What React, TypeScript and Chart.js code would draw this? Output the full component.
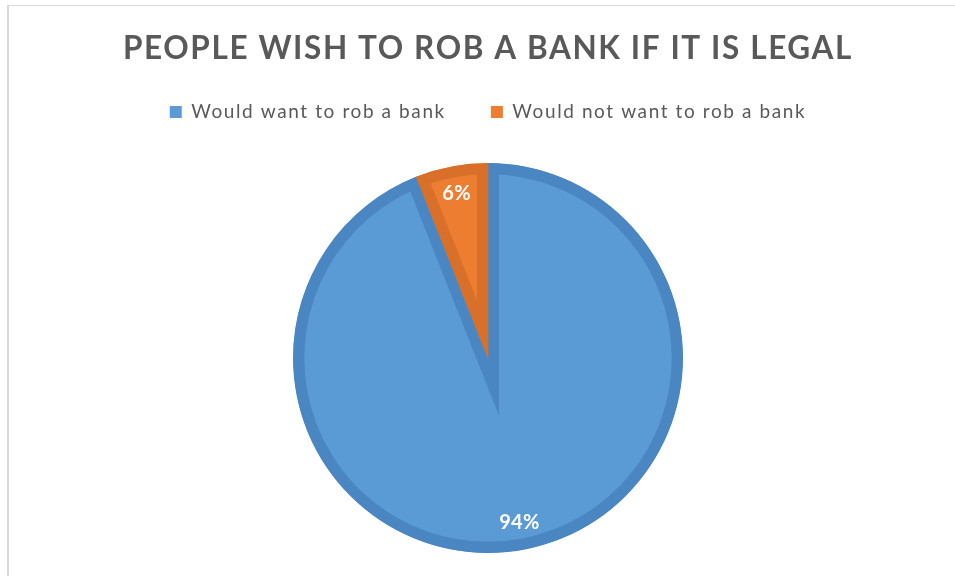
import React, { useEffect, useRef } from "react";
import { Chart, registerables } from "chart.js";

Chart.register(...registerables);

const TITLE = "PEOPLE WISH TO ROB A BANK IF IT IS LEGAL";
const categories = ["Would want to rob a bank", "Would not want to rob a bank"];
const values = [94, 6];
const valueLabels = ["94%", "6%"];
const fillColors = ["#5b9bd5", "#ed7d31"];
const borderColors = ["#4a86c1", "#d9702a"];

const LETTER_SPACING = "1.6px";

const spacingPlugin = {
  id: "textSpacing",
  beforeUpdate(chart: any) {
    (chart.ctx as any).letterSpacing = LETTER_SPACING;
  },
  beforeLayout(chart: any) {
    (chart.ctx as any).letterSpacing = LETTER_SPACING;
  },
  beforeDraw(chart: any) {
    (chart.ctx as any).letterSpacing = LETTER_SPACING;
  },
};

const sliceLabelPlugin = {
  id: "sliceLabels",
  afterDatasetsDraw(chart: any) {
    const ctx = chart.ctx;
    const meta = chart.getDatasetMeta(0);
    ctx.save();
    (ctx as any).letterSpacing = "0.3px";
    ctx.font = "bold 20px Lato";
    ctx.fillStyle = "#ffffff";
    ctx.textAlign = "center";
    ctx.textBaseline = "middle";
    meta.data.forEach((arc: any, i: number) => {
      const p = arc.getProps(["x", "y", "startAngle", "endAngle", "outerRadius"], true);
      const mid = (p.startAngle + p.endAngle) / 2;
      const r = p.outerRadius * 0.86;
      ctx.fillText(valueLabels[i], p.x + Math.cos(mid) * r, p.y + Math.sin(mid) * r);
    });
    ctx.restore();
  },
};

export default function App() {
  const ref = useRef<HTMLCanvasElement | null>(null);
  useEffect(() => {
    if (!ref.current) return;
    const chart = new Chart(ref.current, {
      type: "pie",
      data: {
        labels: categories,
        datasets: [
          {
            data: values,
            backgroundColor: fillColors,
            borderColor: borderColors,
            borderWidth: 11,
            borderAlign: "inner",
            borderJoinStyle: "miter",
            radius: 195,
          } as any,
        ],
      },
      options: {
        responsive: false,
        animation: false,
        layout: { padding: { left: 21, right: 0, top: 0, bottom: 15.5 } },
        plugins: {
          title: {
            display: true,
            text: TITLE,
            color: "#595959",
            font: { family: "Lato", size: 31.5, weight: "bold", lineHeight: 1.2 },
            padding: { top: 30.1, bottom: -10.4 },
          },
          legend: {
            display: true,
            position: "top",
            labels: {
              color: "#595959",
              font: { family: "Lato", size: 19 },
              boxWidth: 12,
              boxHeight: 12,
              padding: 45,
              generateLabels: () =>
                categories.map((t, i) => ({
                  text: t,
                  fillStyle: fillColors[i],
                  strokeStyle: fillColors[i],
                  lineWidth: 0,
                  hidden: false,
                  index: i,
                  fontColor: "#595959",
                })),
            },
          },
          tooltip: { enabled: false },
        },
      },
      plugins: [spacingPlugin, sliceLabelPlugin],
    });
    return () => chart.destroy();
  }, []);
  return (
    <div>
      <div
        style={{
          position: "fixed",
          left: 7,
          top: 5,
          right: 0,
          bottom: 0,
          borderTop: "1px solid #d9d9d9",
          borderLeft: "2px solid #d9d9d9",
          boxSizing: "border-box",
        }}
      />
      <canvas
        ref={ref}
        width={955}
        height={600}
        style={{ position: "fixed", left: 0, top: 0, width: 955, height: 600, display: "block" }}
      />
    </div>
  );
}
